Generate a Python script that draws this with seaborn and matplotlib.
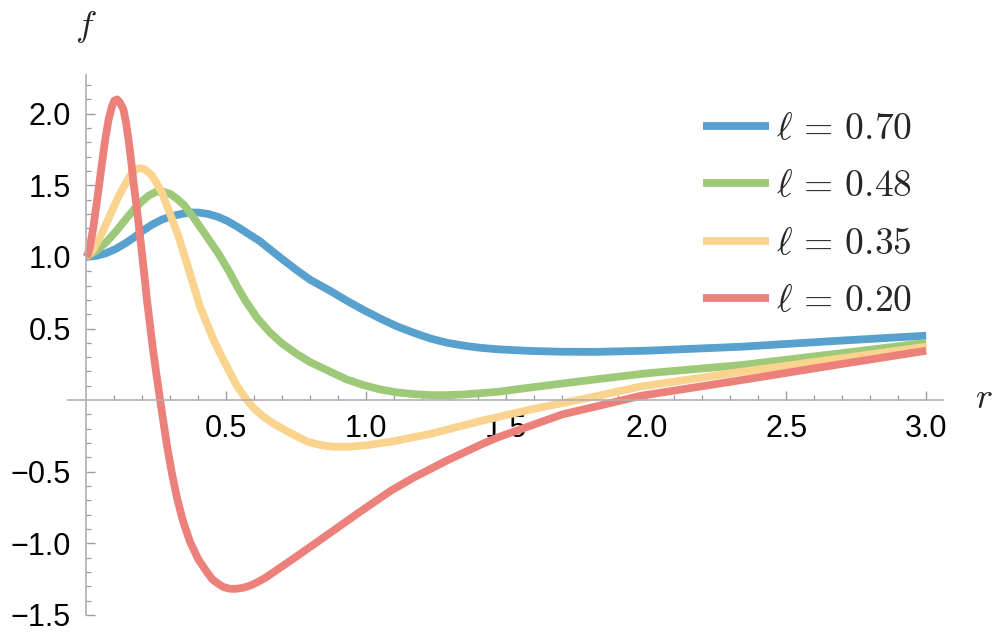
import numpy as np
import pandas as pd
import matplotlib
matplotlib.use("Agg")
import matplotlib.pyplot as plt
import seaborn as sns

# ---------------- data ----------------
series_labels = [r"$\ell\,=\,0.70$", r"$\ell\,=\,0.48$", r"$\ell\,=\,0.35$", r"$\ell\,=\,0.20$"]
series_colors = ["#58A0CD", "#9EC979", "#FAD38F", "#EC807A"]

r_070 = [0.0, 0.035, 0.07, 0.105, 0.14, 0.17, 0.20, 0.235, 0.27, 0.305, 0.34, 0.37, 0.40,
         0.435, 0.47, 0.505, 0.54, 0.58, 0.62, 0.69, 0.75, 0.80, 0.87, 0.93, 0.99, 1.05,
         1.11, 1.17, 1.23, 1.29, 1.35, 1.41, 1.47, 1.59, 1.70, 1.82, 2.00, 2.34, 2.69, 3.00]
f_070 = [1.0, 1.007, 1.025, 1.055, 1.095, 1.135, 1.18, 1.225, 1.26, 1.285, 1.30, 1.31, 1.31,
         1.30, 1.28, 1.25, 1.21, 1.16, 1.11, 1.0, 0.91, 0.84, 0.765, 0.695, 0.63, 0.57,
         0.515, 0.47, 0.43, 0.40, 0.38, 0.365, 0.355, 0.343, 0.338, 0.337, 0.345, 0.373, 0.415, 0.45]

r_048 = [0.0, 0.035, 0.07, 0.105, 0.14, 0.17, 0.20, 0.225, 0.25, 0.275, 0.30, 0.325, 0.35,
         0.38, 0.41, 0.44, 0.47, 0.51, 0.54, 0.57, 0.61, 0.655, 0.70, 0.75, 0.80, 0.87,
         0.93, 0.99, 1.05, 1.11, 1.17, 1.23, 1.29, 1.35, 1.47, 1.59, 1.82, 2.00, 2.34, 2.69, 3.00]
f_048 = [1.0, 1.04, 1.10, 1.175, 1.26, 1.33, 1.39, 1.43, 1.455, 1.455, 1.44, 1.405, 1.36,
         1.285, 1.20, 1.115, 1.03, 0.90, 0.79, 0.69, 0.575, 0.475, 0.395, 0.325, 0.265, 0.20,
         0.145, 0.105, 0.075, 0.054, 0.042, 0.035, 0.035, 0.04, 0.058, 0.089, 0.145, 0.187, 0.245, 0.326, 0.40]

r_035 = [0.0, 0.025, 0.056, 0.085, 0.115, 0.14, 0.163, 0.178, 0.193, 0.21, 0.234, 0.25,
         0.27, 0.294, 0.33, 0.365, 0.407, 0.455, 0.485, 0.514, 0.54, 0.57, 0.60, 0.633,
         0.67, 0.72, 0.79, 0.84, 0.88, 0.94, 1.0, 1.09, 1.23, 1.41, 1.60, 1.78,
         1.98, 2.34, 2.69, 3.00]
f_035 = [1.0, 1.05, 1.165, 1.29, 1.42, 1.51, 1.585, 1.61, 1.62, 1.61, 1.57, 1.52,
         1.45, 1.33, 1.14, 0.92, 0.65, 0.42, 0.30, 0.19, 0.095, 0.01, -0.06, -0.115,
         -0.165, -0.22, -0.29, -0.315, -0.325, -0.325, -0.315, -0.29, -0.235, -0.145, -0.06, 0.01,
         0.095, 0.198, 0.29, 0.373]

r_020 = [0.0, 0.006, 0.012, 0.025, 0.044, 0.056, 0.068, 0.08, 0.092, 0.10, 0.11, 0.12,
         0.133, 0.142, 0.151, 0.16, 0.169, 0.178, 0.187, 0.205, 0.217, 0.24, 0.264, 0.288,
         0.305, 0.324, 0.345, 0.371, 0.40, 0.431, 0.45, 0.47, 0.49, 0.514, 0.535, 0.56,
         0.585, 0.61, 0.64, 0.67, 0.73, 0.85, 0.97, 1.09, 1.17, 1.29, 1.41, 1.47, 1.70, 1.98,
         2.34, 2.69, 3.00]
f_020 = [1.0, 1.02, 1.06, 1.2, 1.47, 1.65, 1.82, 1.96, 2.05, 2.09, 2.10, 2.08,
         2.03, 1.94, 1.82, 1.68, 1.52, 1.38, 1.235, 0.92, 0.70, 0.33, 0.0, -0.31,
         -0.50, -0.68, -0.84, -0.99, -1.11, -1.2, -1.25, -1.28, -1.305, -1.317, -1.317, -1.31,
         -1.295, -1.273, -1.24, -1.2, -1.12, -0.956, -0.79, -0.63, -0.54, -0.42, -0.31, -0.26, -0.10, 0.03,
         0.14, 0.25, 0.345]

x_major = [0.5, 1.0, 1.5, 2.0, 2.5, 3.0]
x_major_labels = ["0.5", "1.0", "1.5", "2.0", "2.5", "3.0"]
y_major = [-1.5, -1.0, -0.5, 0.5, 1.0, 1.5, 2.0]
y_major_labels = ["\u22121.5", "\u22121.0", "\u22120.5", "0.5", "1.0", "1.5", "2.0"]

# ---------------- build frame ----------------
frames = []
for lab, rr, ff in zip(series_labels,
                       [r_070, r_048, r_035, r_020],
                       [f_070, f_048, f_035, f_020]):
    frames.append(pd.DataFrame({"r": rr, "f": ff, "series": lab}))
df = pd.concat(frames, ignore_index=True)

# ---------------- style ----------------
sns.set_theme(style="white")
plt.rcParams["font.family"] = ["Liberation Sans", "DejaVu Sans"]
plt.rcParams["mathtext.fontset"] = "cm"
plt.rcParams["axes.unicode_minus"] = True

fig = plt.figure(figsize=(9.97, 6.35), dpi=100)
ax = fig.add_axes([68 / 997, 20 / 635, 875 / 997, 540 / 635])

sns.lineplot(data=df, x="r", y="f", hue="series", hue_order=series_labels,
             palette=dict(zip(series_labels, series_colors)), linewidth=5.6,
             estimator=None, sort=False, ax=ax, legend=True)
for ln in ax.get_lines():
    ln.set_solid_capstyle("butt")
    ln.set_solid_joinstyle("round")

ax.set_xlim(-0.065, 3.06)
ax.set_ylim(-1.5, 2.27)

spine_col = "#b0b0b0"
for s in ["top", "right"]:
    ax.spines[s].set_visible(False)
ax.spines["left"].set_position(("data", 0))
ax.spines["bottom"].set_position(("data", 0))
for s in ["left", "bottom"]:
    ax.spines[s].set_color(spine_col)
    ax.spines[s].set_linewidth(1.2)

ax.set_xticks(x_major)
ax.set_xticklabels(x_major_labels)
ax.set_yticks(y_major)
ax.set_yticklabels(y_major_labels)
xminor = [v for v in np.round(np.arange(0.1, 3.01, 0.1), 2) if v not in x_major]
yminor = [v for v in np.round(np.arange(-1.5, 2.21, 0.1), 2) if v not in y_major and abs(v) > 1e-9]
ax.set_xticks(xminor, minor=True)
ax.set_yticks(yminor, minor=True)

ax.tick_params(axis="both", which="both", bottom=True, left=True, top=False, right=False)
ax.tick_params(axis="both", which="major", direction="in", length=6.5, width=1.0,
               color="#9a9a9a", labelsize=22, labelcolor="black")
ax.tick_params(axis="both", which="minor", direction="in", length=3.8, width=0.9,
               color="#9a9a9a")
ax.tick_params(axis="x", which="major", pad=10)
ax.tick_params(axis="y", which="major", pad=11)
ax.set_xlabel("")
ax.set_ylabel("")
ax.grid(False)

# legend
handles, labs = ax.get_legend_handles_labels()
leg = ax.legend(handles, labs, loc="upper left", bbox_to_anchor=(703 / 997, 1 - 111 / 635),
                bbox_transform=fig.transFigure, frameon=False, fontsize=27,
                handlelength=1.75, handletextpad=0.2, labelspacing=0.57,
                borderpad=0, borderaxespad=0)
for h in leg.get_lines():
    h.set_linewidth(5.6)
    h.set_solid_capstyle("butt")

fig.text(86 / 997, 1 - 27 / 635, r"$f$", fontsize=26, ha="center", va="center")
fig.text(984 / 997, 1 - 398 / 635, r"$r$", fontsize=26, ha="center", va="center")

fig.savefig("out.png", dpi=100)
